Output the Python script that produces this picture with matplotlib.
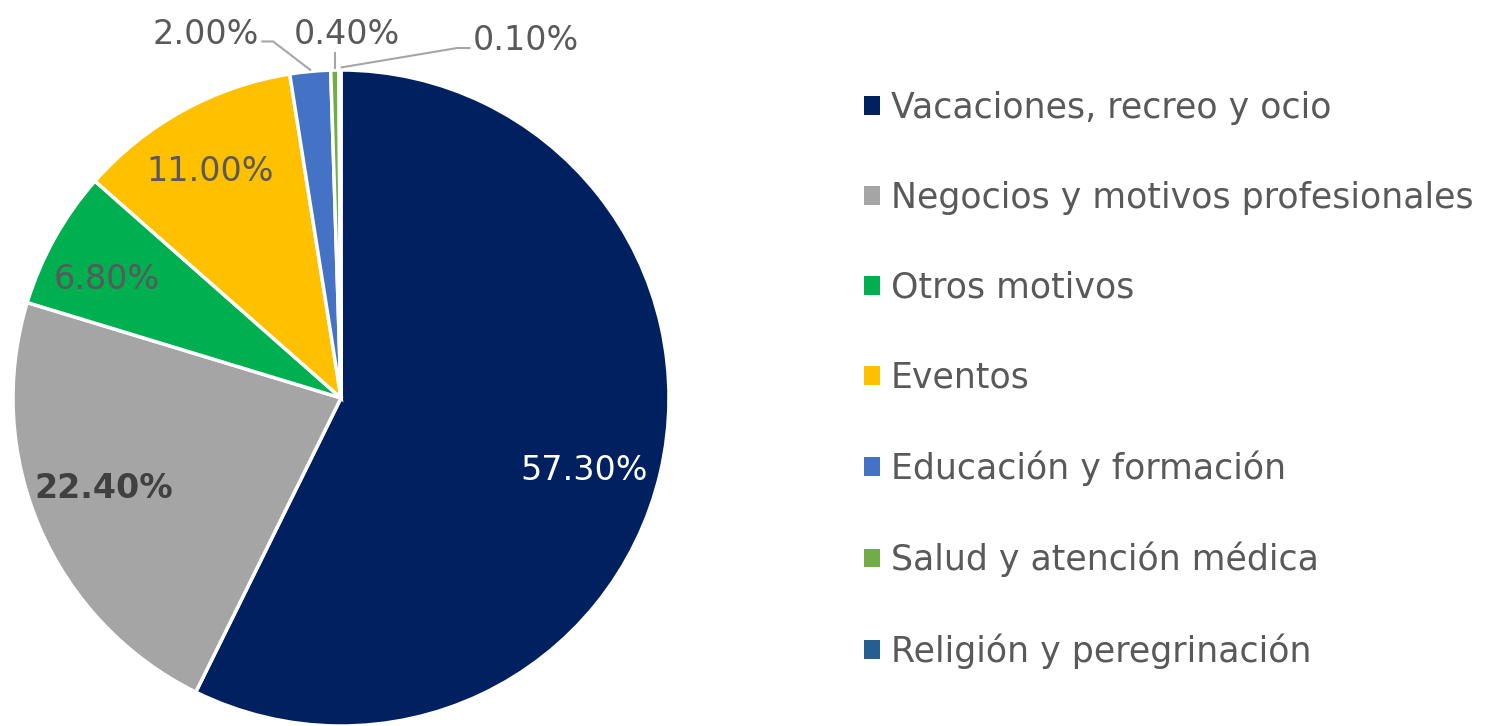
import numpy as np
import matplotlib
matplotlib.use("Agg")
import matplotlib.pyplot as plt

# ─────────────────────────── DATA ───────────────────────────
CATEGORIES = [
    "Vacaciones, recreo y ocio",
    "Negocios y motivos profesionales",
    "Otros motivos",
    "Eventos",
    "Educación y formación",
    "Salud y atención médica",
    "Religión y peregrinación",
]
SHARES = [57.3, 22.4, 6.8, 11.0, 2.0, 0.4, 0.1]
COLOURS = ["#002060", "#A5A5A5", "#00B050", "#FFC000", "#4472C4", "#70AD47", "#255E91"]

# label positions (data units, pie radius = 1)
LABEL_POS = [(0.74, -0.22), (-0.725, -0.275), (-0.715, 0.36), (-0.40, 0.69),
             (-0.25, 1.107), (0.018, 1.107), (0.402, 1.091)]

TEXT_COL = "#595959"
FONT = "DejaVu Sans"
FS_LAB = 24
FS_LEG = 25

plt.rcParams["font.family"] = FONT

fig = plt.figure(figsize=(14.91, 7.26), dpi=100)
W, H = 1491, 726
cx, cy, r = 341, 398, 328
ax = fig.add_axes([(cx - r) / W, (H - cy - r) / H, 2 * r / W, 2 * r / H])

wedges, _ = ax.pie(SHARES, colors=COLOURS, startangle=90, counterclock=False,
                   radius=1, wedgeprops=dict(edgecolor="white", linewidth=2.5))
ax.set_xlim(-1, 1)
ax.set_ylim(-1, 1)
ax.set_aspect("equal")
ax.axis("off")
for w in wedges:
    w.set_clip_on(False)

LINE_COL = "#A6A6A6"
for i, (w, val) in enumerate(zip(wedges, SHARES)):
    x, y = LABEL_POS[i]
    label = f"{val:.2f}%"
    colour, weight = TEXT_COL, "normal"
    if i == 0:
        colour = "white"
    if i == 1:
        colour, weight = "#404040", "bold"
    ha = "center"
    if i >= 4:
        mid = np.deg2rad((w.theta1 + w.theta2) / 2)
        ex, ey = np.cos(mid), np.sin(mid)
        if i == 4:
            ha = "right"
            xs = [x + 0.01, x + 0.043, ex]
            ys = [y - 0.02, y - 0.02, ey + 0.005]
        elif i == 5:
            xs = [ex, ex]
            ys = [ey + 0.005, y - 0.055]
        else:
            ha = "left"
            xs = [ex + 0.005, x - 0.048, x - 0.01]
            ys = [ey + 0.008, y - 0.024, y - 0.024]
        ax.plot(xs, ys, color=LINE_COL, lw=1.5, clip_on=False)
    ax.text(x, y, label, ha=ha, va="center", fontsize=FS_LAB, color=colour,
            fontweight=weight, clip_on=False)

leg = fig.legend(wedges, CATEGORIES, loc="upper left",
                 bbox_to_anchor=(850 / W, 1 - 77 / H), frameon=False,
                 fontsize=FS_LEG, labelcolor=TEXT_COL,
                 handlelength=0.45, handleheight=0.45, handletextpad=0.32,
                 labelspacing=1.61, borderaxespad=0)
for h in leg.legend_handles:
    h.set_edgecolor("none")

fig.savefig("out.png", dpi=100)
